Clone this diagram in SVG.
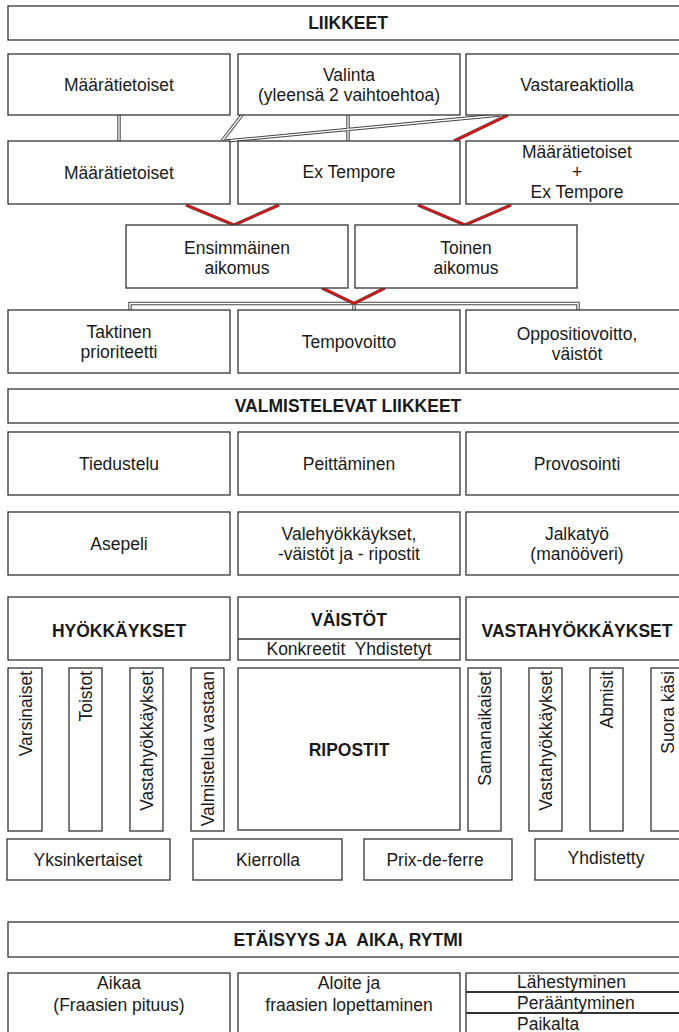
<svg xmlns="http://www.w3.org/2000/svg" width="679" height="1032" viewBox="0 0 679 1032">
<style>
  .box { fill: #fff; stroke: #333; stroke-width: 1.3; }
  .t { font-family: "Liberation Sans", Arial, sans-serif; font-size: 17.5px; fill: #1a1a1a; text-anchor: middle; }
  .b { font-weight: bold; }
  .v { text-anchor: end; }
  .s { text-anchor: start; }
  .do { fill: none; stroke: #444; stroke-width: 3.4; }
  .di { fill: none; stroke: #fff; stroke-width: 1.3; }
  .ro { fill: none; stroke: #444; stroke-width: 3.2; }
  .ri { fill: none; stroke: #e01515; stroke-width: 2; }
  .sep { stroke: #333; stroke-width: 1.3; }
  .sep2 { stroke: #333; stroke-width: 2.2; }
</style>
<rect width="679" height="1032" fill="#fff"/>

<g id="connectors">
  <path class="do" d="M119,115 V141 M348,115 V141 M242,115 L222,141 M500,115 L226,141 M130,310 V303.5 H578 V310 M354,303.5 V310"/>
  <path class="di" d="M119,115 V141 M348,115 V141 M242,115 L222,141 M500,115 L226,141 M130,310 V303.5 H578 V310 M354,303.5 V310"/>
  <path class="ro" d="M508,115 L454,141 M186,205 L234,225 L279,205 M418,205 L465,225 L511,205 M322,288 L354,303.5 L385,288"/>
  <path class="ri" d="M508,115 L454,141 M186,205 L234,225 L279,205 M418,205 L465,225 L511,205 M322,288 L354,303.5 L385,288"/>
</g>

<g id="liikkeet"><rect class="box" x="8" y="6" width="684" height="34"/><text class="t b" x="348" y="29">LIIKKEET</text></g>

<g id="r2-maaratietoiset"><rect class="box" x="8" y="54" width="222" height="61"/><text class="t" x="119" y="91">Määrätietoiset</text></g>
<g id="r2-valinta"><rect class="box" x="238" y="54" width="222" height="61"/><text class="t" x="349" y="81">Valinta</text><text class="t" x="349" y="101">(yleensä 2 vaihtoehtoa)</text></g>
<g id="r2-vastareaktiolla"><rect class="box" x="466" y="54" width="222" height="61"/><text class="t" x="577" y="91">Vastareaktiolla</text></g>

<g id="r3-maaratietoiset"><rect class="box" x="8" y="141" width="222" height="63"/><text class="t" x="119" y="179">Määrätietoiset</text></g>
<g id="r3-extempore"><rect class="box" x="238" y="141" width="222" height="63"/><text class="t" x="349" y="178">Ex Tempore</text></g>
<g id="r3-molemmat"><rect class="box" x="466" y="141" width="222" height="63"/><text class="t" x="577" y="158">Määrätietoiset</text><text class="t" x="577" y="178">+</text><text class="t" x="577" y="198">Ex Tempore</text></g>

<g id="ensimmainen"><rect class="box" x="126" y="225" width="222" height="63"/><text class="t" x="237" y="254">Ensimmäinen</text><text class="t" x="237" y="274">aikomus</text></g>
<g id="toinen"><rect class="box" x="355" y="225" width="222" height="63"/><text class="t" x="466" y="254">Toinen</text><text class="t" x="466" y="274">aikomus</text></g>

<g id="taktinen"><rect class="box" x="8" y="310" width="222" height="63"/><text class="t" x="119" y="338">Taktinen</text><text class="t" x="119" y="358">prioriteetti</text></g>
<g id="tempovoitto"><rect class="box" x="238" y="310" width="222" height="63"/><text class="t" x="349" y="348">Tempovoitto</text></g>
<g id="oppositiovoitto"><rect class="box" x="466" y="310" width="222" height="63"/><text class="t" x="577" y="340">Oppositiovoitto,</text><text class="t" x="577" y="360">väistöt</text></g>

<g id="valmistelevat"><rect class="box" x="8" y="389" width="684" height="34"/><text class="t b" x="348" y="412">VALMISTELEVAT LIIKKEET</text></g>

<g id="tiedustelu"><rect class="box" x="8" y="432" width="222" height="63"/><text class="t" x="119" y="470">Tiedustelu</text></g>
<g id="peittaminen"><rect class="box" x="238" y="432" width="222" height="63"/><text class="t" x="349" y="470">Peittäminen</text></g>
<g id="provosointi"><rect class="box" x="466" y="432" width="222" height="63"/><text class="t" x="577" y="470">Provosointi</text></g>

<g id="asepeli"><rect class="box" x="8" y="512" width="222" height="63"/><text class="t" x="119" y="550">Asepeli</text></g>
<g id="valehyokkaykset"><rect class="box" x="238" y="512" width="222" height="63"/><text class="t" x="349" y="540">Valehyökkäykset,</text><text class="t" x="349" y="560">-väistöt ja - ripostit</text></g>
<g id="jalkatyo"><rect class="box" x="466" y="512" width="222" height="63"/><text class="t" x="577" y="540">Jalkatyö</text><text class="t" x="577" y="560">(manööveri)</text></g>

<g id="hyokkaykset"><rect class="box" x="8" y="597" width="222" height="63"/><text class="t b" x="119" y="637">HYÖKKÄYKSET</text></g>
<g id="vaistot"><rect class="box" x="238" y="597" width="222" height="63"/><line class="sep" x1="238" y1="639" x2="460" y2="639"/><text class="t b" x="349" y="626">VÄISTÖT</text><text class="t" x="349" y="655">Konkreetit&#160; Yhdistetyt</text></g>
<g id="vastahyokkaykset"><rect class="box" x="466" y="597" width="222" height="63"/><text class="t b" x="577" y="637">VASTAHYÖKKÄYKSET</text></g>

<g id="varsinaiset"><rect class="box" x="8" y="668" width="34" height="163"/><text class="t v" transform="translate(31.5,671) rotate(-90)">Varsinaiset</text></g>
<g id="toistot"><rect class="box" x="69" y="668" width="33" height="163"/><text class="t v" transform="translate(92,671) rotate(-90)">Toistot</text></g>
<g id="l-vastahyokkaykset"><rect class="box" x="130" y="668" width="33" height="163"/><text class="t v" transform="translate(153,671) rotate(-90)">Vastahyökkäykset</text></g>
<g id="valmistelua"><rect class="box" x="191" y="668" width="33" height="163"/><text class="t v" transform="translate(214,671) rotate(-90)">Valmistelua vastaan</text></g>

<g id="ripostit"><rect class="box" x="238" y="668" width="222" height="162"/><text class="t b" x="349" y="756">RIPOSTIT</text></g>

<g id="samanaikaiset"><rect class="box" x="468" y="668" width="33" height="163"/><text class="t v" transform="translate(491,671) rotate(-90)">Samanaikaiset</text></g>
<g id="r-vastahyokkaykset"><rect class="box" x="529" y="668" width="33" height="163"/><text class="t v" transform="translate(552,671) rotate(-90)">Vastahyökkäykset</text></g>
<g id="abmisit"><rect class="box" x="590" y="668" width="33" height="163"/><text class="t v" transform="translate(613,671) rotate(-90)">Abmisit</text></g>
<g id="suorakasi"><rect class="box" x="651" y="668" width="40" height="163"/><text class="t v" transform="translate(674,671) rotate(-90)">Suora käsi</text></g>

<g id="yksinkertaiset"><rect class="box" x="7" y="839" width="163" height="41"/><text class="t" x="88" y="866">Yksinkertaiset</text></g>
<g id="kierrolla"><rect class="box" x="193" y="839" width="149" height="41"/><text class="t" x="268" y="866">Kierrolla</text></g>
<g id="prixdeferre"><rect class="box" x="364" y="839" width="148" height="41"/><text class="t" x="435" y="866">Prix-de-ferre</text></g>
<g id="yhdistetty"><rect class="box" x="535" y="839" width="156" height="41"/><text class="t" x="606" y="864">Yhdistetty</text></g>

<g id="etaisyys"><rect class="box" x="8" y="922" width="684" height="35"/><text class="t b" x="348" y="946">ETÄISYYS JA&#160; AIKA, RYTMI</text></g>

<g id="aikaa"><rect class="box" x="8" y="973" width="222" height="70"/><text class="t" x="119" y="989">Aikaa</text><text class="t" x="119" y="1011">(Fraasien pituus)</text></g>
<g id="aloite"><rect class="box" x="238" y="973" width="222" height="70"/><text class="t" x="349" y="989">Aloite ja</text><text class="t" x="349" y="1011">fraasien lopettaminen</text></g>
<g id="liikkuminen"><rect class="box" x="466" y="973" width="226" height="70"/><line class="sep2" x1="466" y1="992" x2="692" y2="992"/><line class="sep2" x1="466" y1="1013" x2="692" y2="1013"/><text class="t s" x="517" y="988">Lähestyminen</text><text class="t s" x="517" y="1009">Perääntyminen</text><text class="t s" x="517" y="1030">Paikalta</text></g>
</svg>
